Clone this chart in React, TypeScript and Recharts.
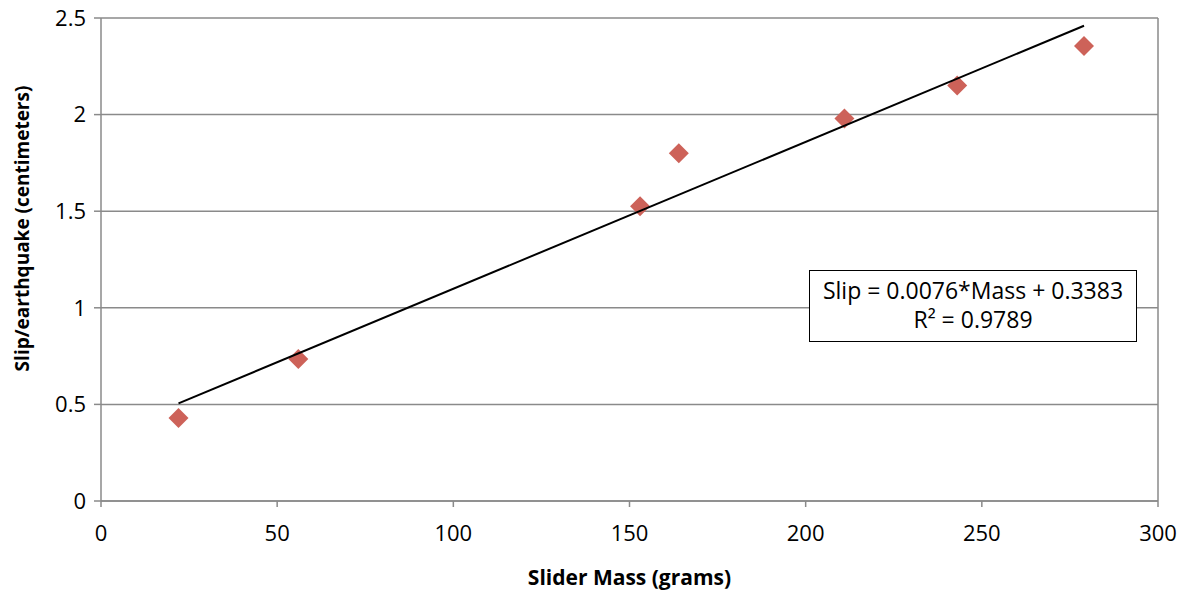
import { ComposedChart, Scatter, XAxis, YAxis, CartesianGrid, ReferenceLine } from "recharts";

const massGrams = [22, 56, 153, 164, 211, 243, 279];
const slipCm = [0.43, 0.735, 1.525, 1.8, 1.98, 2.15, 2.355];

// linear trendline end points
const trendMass = [22, 279];
const trendSlip = [0.505, 2.46];

const xTicks = [0, 50, 100, 150, 200, 250, 300];
const yTicks = [0, 0.5, 1, 1.5, 2, 2.5];

const equationText = "Slip = 0.0076*Mass + 0.3383";
const rSquaredText = "R² = 0.9789";

const FONT = "'Open Sans', sans-serif";
const GRID = "#8a8a8a";

const points = massGrams.map((m, i) => ({ mass: m, slip: slipCm[i] }));
const trend = trendMass.map((m, i) => ({ mass: m, slip: trendSlip[i] }));

const Diamond = (props: any) => {
  const { cx, cy } = props;
  const r = 10;
  return (
    <polygon
      points={`${cx},${cy - r} ${cx + r},${cy} ${cx},${cy + r} ${cx - r},${cy}`}
      fill="#cd6259"
    />
  );
};

const YTitle = (props: any) => {
  const { viewBox } = props;
  const x = viewBox.x + 22;
  const y = viewBox.y + viewBox.height / 2 - 31;
  return (
    <text
      x={x}
      y={y}
      transform={`rotate(-90, ${x}, ${y})`}
      textAnchor="middle"
      dominantBaseline="central"
      fontFamily={FONT}
      fontWeight="bold"
      fontSize={19}
      fill="#000"
    >
      Slip/earthquake (centimeters)
    </text>
  );
};

export default function App() {
  return (
    <div style={{ position: "absolute", left: 0, top: 0, width: 1184, height: 591, background: "#fff" }}>
      <ComposedChart width={1184} height={591} margin={{ top: 18, right: 26, left: 0, bottom: 0 }}>
        <CartesianGrid vertical={false} stroke={GRID} strokeWidth={1.5} horizontalValues={yTicks} />
        <XAxis
          type="number"
          dataKey="mass"
          domain={[0, 300]}
          ticks={xTicks}
          height={90}
          tickSize={6}
          tickMargin={18}
          stroke={GRID}
          strokeWidth={1.5}
          tick={{ fill: "#000", fontSize: 22, fontFamily: FONT }}
          label={{
            value: "Slider Mass (grams)",
            position: "insideBottom",
            offset: 6,
            fill: "#000",
            fontSize: 21,
            fontWeight: "bold",
            fontFamily: FONT,
          }}
        />
        <YAxis
          type="number"
          dataKey="slip"
          domain={[0, 2.5]}
          ticks={yTicks}
          width={101}
          tickSize={7}
          tickMargin={8}
          stroke={GRID}
          strokeWidth={1.5}
          tick={{ fill: "#000", fontSize: 22, fontFamily: FONT }}
          label={<YTitle />}
        />
        <ReferenceLine x={300} stroke={GRID} strokeWidth={1.5} />
        <Scatter data={points} shape={<Diamond />} isAnimationActive={false} />
        <Scatter
          data={trend}
          line={{ stroke: "#000", strokeWidth: 2 }}
          shape={() => <g />}
          isAnimationActive={false}
        />
      </ComposedChart>
      <div
        style={{
          position: "absolute",
          left: 809,
          top: 270,
          width: 328,
          height: 72,
          boxSizing: "border-box",
          border: "1.5px solid #000",
          background: "#fff",
          fontFamily: FONT,
          fontSize: 23,
          lineHeight: "29px",
          textAlign: "center",
          paddingTop: 5,
          color: "#000",
          whiteSpace: "nowrap",
        }}
      >
        <div>{equationText}</div>
        <div>{rSquaredText}</div>
      </div>
    </div>
  );
}
